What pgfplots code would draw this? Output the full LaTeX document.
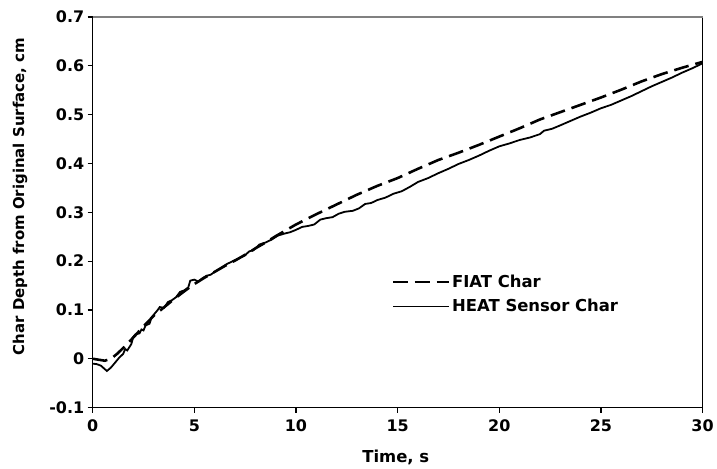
\documentclass[border=0pt]{standalone}
\usepackage{fontspec}
\setmainfont{DejaVu Sans}
\usepackage{pgfplots}
\pgfplotsset{compat=1.18}

% FIAT prediction (dashed)
\pgfplotstableread{
t v
0 0
0.3 -0.002
0.6 -0.004
0.9 0.0
1.2 0.010
1.5 0.022
1.8 0.035
2.1 0.048
2.4 0.062
2.7 0.075
3.0 0.088
3.5 0.105
4.0 0.122
4.5 0.138
5.0 0.153
5.5 0.166
6.0 0.178
6.5 0.190
7.0 0.201
7.5 0.213
8.0 0.226
8.5 0.238
9.0 0.251
9.5 0.263
10 0.275
11 0.296
12 0.316
13 0.336
14 0.354
15 0.370
16 0.389
17 0.407
18 0.422
19 0.438
20 0.455
21 0.472
22 0.490
23 0.505
24 0.520
25 0.535
26 0.551
27 0.568
28 0.583
29 0.596
30 0.608
}\fiat

% HEAT sensor measurement (solid)
\pgfplotstableread{
t v
0 -0.010
0.2 -0.011
0.4 -0.014
0.7 -0.025
0.9 -0.018
1.1 -0.008
1.3 0.002
1.5 0.010
1.6 0.020
1.7 0.017
1.9 0.030
2.0 0.045
2.1 0.050
2.3 0.052
2.4 0.060
2.5 0.058
2.6 0.068
2.8 0.072
2.9 0.085
3.0 0.090
3.2 0.100
3.3 0.106
3.5 0.104
3.7 0.116
3.9 0.120
4.1 0.126
4.3 0.137
4.5 0.140
4.7 0.146
4.8 0.160
5.0 0.162
5.2 0.158
5.4 0.165
5.6 0.170
5.8 0.172
6.0 0.178
6.3 0.186
6.6 0.194
6.9 0.200
7.2 0.206
7.5 0.212
7.7 0.220
7.9 0.222
8.2 0.234
8.5 0.238
8.8 0.244
9.1 0.252
9.4 0.256
9.7 0.259
10.0 0.264
10.3 0.270
10.6 0.272
10.9 0.275
11.2 0.285
11.5 0.288
11.8 0.290
12.1 0.297
12.4 0.301
12.8 0.303
13.1 0.308
13.4 0.317
13.7 0.319
14.0 0.325
14.4 0.330
14.8 0.338
15.2 0.343
15.6 0.352
16.0 0.362
16.5 0.370
17.0 0.380
17.5 0.389
18.0 0.399
18.5 0.407
19.0 0.416
19.5 0.426
20.0 0.435
20.5 0.441
21.0 0.448
21.5 0.453
22.0 0.460
22.2 0.467
22.6 0.471
23.0 0.478
23.5 0.487
24.0 0.496
24.5 0.504
25.0 0.513
25.5 0.520
26.0 0.529
26.5 0.538
27.0 0.548
27.5 0.558
28.0 0.567
28.5 0.576
29.0 0.586
29.5 0.595
30.0 0.605
}\heat

\begin{document}
\begin{tikzpicture}
\begin{axis}[
  scale only axis,
  width=612pt, height=392pt,
  xmin=0, xmax=30, ymin=-0.1, ymax=0.7,
  clip=false,
  xtick={0,5,...,30},
  ytick={-0.1,0,0.1,0.2,0.3,0.4,0.5,0.6,0.7},
  yticklabel style={/pgf/number format/fixed, /pgf/number format/precision=1},
  /pgf/number format/assume math mode=true,
  tick align=outside,
  major tick length=5pt,
  xtick pos=bottom, ytick pos=left,
  axis line style={black, line width=1.2pt},
  tick style={black, line width=1.2pt},
  ticklabel style={font=\fontsize{16}{18}\selectfont\bfseries},
  xticklabel style={yshift=-4pt},
  xlabel={Time, s},
  ylabel={Char Depth from Original Surface, cm},
  xlabel style={font=\fontsize{16.5}{18}\selectfont\bfseries,
    at={(axis description cs:0.497,-0.128)}, anchor=center},
  ylabel style={font=\fontsize{15}{18}\selectfont\bfseries,
    at={(axis description cs:-0.119,0.54)}, anchor=center},
  legend style={draw=none, fill=none, inner sep=0pt, at={(0.490,0.345)}, anchor=north west,
    font=\fontsize{16.5}{18}\selectfont\bfseries, row sep=6.5pt},
  legend cell align=left,
  legend image code/.code={\draw[#1] (0pt,0pt) -- (50pt,0pt);
    \path (0pt,0pt) -- (56pt,0pt);},
]
\addplot[black, line width=2.6pt, dash pattern=on 15pt off 7pt] table[x=t,y=v] {\fiat};
\addlegendentry{FIAT Char}
\addplot[black, line width=1.8pt] table[x=t,y=v] {\heat};
\addlegendentry{HEAT Sensor Char}
\draw[gray, line width=1.5pt] (rel axis cs:0,1) -- (rel axis cs:1,1);
% page margins around the plot area
\path (rel axis cs:0,0) ++(-93pt,-60pt) coordinate (pageSW);
\path (rel axis cs:1,1) ++(12pt,17pt) coordinate (pageNE);
\end{axis}
\end{tikzpicture}
\end{document}
